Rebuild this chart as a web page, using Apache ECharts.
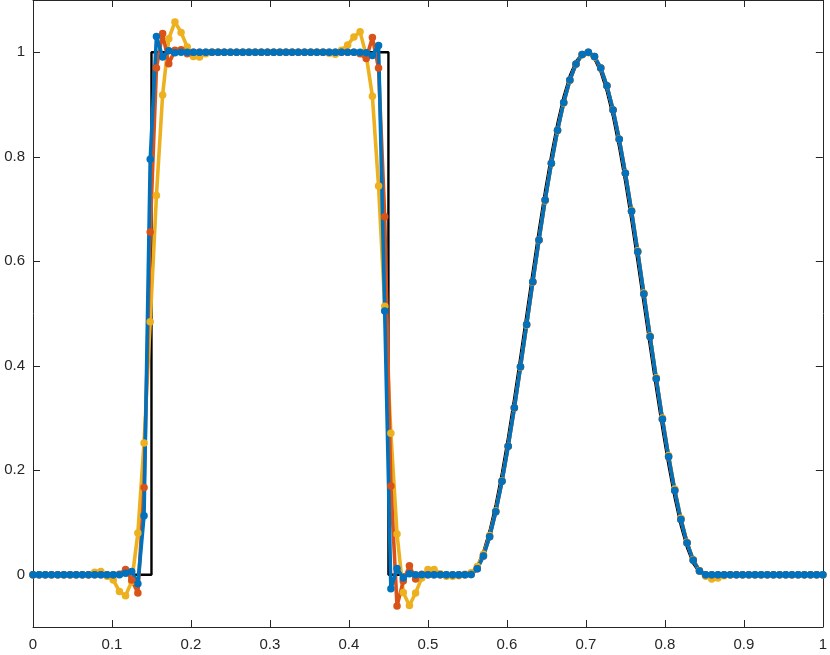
<!DOCTYPE html>
<html>
<head>
<meta charset="utf-8">
<script src="https://cdn.jsdelivr.net/npm/echarts@6/dist/echarts.min.js"></script>
<style>
  html, body { margin: 0; padding: 0; background: #fff; }
  #main { width: 830px; height: 655px; }
</style>
</head>
<body>
<div id="main"></div>
<script>
// sample positions (grid of 129 points)
const xGrid = [
  0, 0.0078, 0.0156, 0.0234, 0.0313, 0.0391, 0.0469, 0.0547, 0.0625, 0.0703, 0.0781, 0.0859, 0.0938, 0.1016, 0.1094, 0.1172,
  0.125, 0.1328, 0.1406, 0.1484, 0.1563, 0.1641, 0.1719, 0.1797, 0.1875, 0.1953, 0.2031, 0.2109, 0.2188, 0.2266, 0.2344, 0.2422,
  0.25, 0.2578, 0.2656, 0.2734, 0.2813, 0.2891, 0.2969, 0.3047, 0.3125, 0.3203, 0.3281, 0.3359, 0.3438, 0.3516, 0.3594, 0.3672,
  0.375, 0.3828, 0.3906, 0.3984, 0.4063, 0.4141, 0.4219, 0.4297, 0.4375, 0.4453, 0.4531, 0.4609, 0.4688, 0.4766, 0.4844, 0.4922,
  0.5, 0.5078, 0.5156, 0.5234, 0.5313, 0.5391, 0.5469, 0.5547, 0.5625, 0.5703, 0.5781, 0.5859, 0.5938, 0.6016, 0.6094, 0.6172,
  0.625, 0.6328, 0.6406, 0.6484, 0.6563, 0.6641, 0.6719, 0.6797, 0.6875, 0.6953, 0.7031, 0.7109, 0.7188, 0.7266, 0.7344, 0.7422,
  0.75, 0.7578, 0.7656, 0.7734, 0.7813, 0.7891, 0.7969, 0.8047, 0.8125, 0.8203, 0.8281, 0.8359, 0.8438, 0.8516, 0.8594, 0.8672,
  0.875, 0.8828, 0.8906, 0.8984, 0.9063, 0.9141, 0.9219, 0.9297, 0.9375, 0.9453, 0.9531, 0.9609, 0.9688, 0.9766, 0.9844, 0.9922,
  1
]

// blue
const blueY = [
  0, 0, 0, 0, 0, 0, 0, 0, 0, 0, 0, 0, 0, 0, 0, 0.003,
  0.006, -0.017, 0.113, 0.795, 1.03, 0.991, 1.003, 0.999, 1, 1, 1, 1, 1, 1, 1, 1,
  1, 1, 1, 1, 1, 1, 1, 1, 1, 1, 1, 1, 1, 1, 1, 1,
  1, 1, 1, 1, 1, 1, 0.999, 0.994, 1.013, 0.505, -0.027, 0.012, -0.006, 0.002, 0, 0,
  0, 0, 0, 0, 0, 0, 0, 0.0005, 0.0116, 0.0359, 0.0726, 0.1206, 0.1789, 0.2458, 0.3194, 0.3979,
  0.479, 0.5607, 0.6408, 0.7172, 0.7877, 0.8505, 0.904, 0.9467, 0.9776, 0.9955, 0.9998, 0.9918, 0.9699, 0.9358, 0.8897, 0.8334,
  0.7682, 0.6958, 0.6183, 0.5374, 0.4556, 0.3749, 0.2977, 0.2258, 0.1612, 0.1057, 0.0609, 0.0276, 0.007, 0.0002, 0, 0,
  0, 0, 0, 0, 0, 0, 0, 0, 0, 0, 0, 0, 0, 0, 0, 0,
  0
]

// orange
const orangeY = [
  0, 0, 0, 0, 0, 0, 0, 0, 0, 0, 0, 0, 0, 0, 0.001, 0.01,
  -0.01, -0.035, 0.167, 0.656, 0.97, 1.036, 0.978, 1.004, 1.005, 0.997, 1, 1, 1, 1, 1, 1,
  1, 1, 1, 1, 1, 1, 1, 1, 1, 1, 1, 1, 1, 1, 1, 1,
  1, 1, 1, 1, 1, 0.997, 0.988, 1.028, 0.97, 0.685, 0.17, -0.06, -0.012, 0.017, -0.008, 0.001,
  0, 0, 0, 0, 0, 0, 0, 0.0005, 0.0116, 0.0359, 0.0726, 0.1206, 0.1789, 0.2458, 0.3194, 0.3979,
  0.479, 0.5607, 0.6408, 0.7172, 0.7877, 0.8505, 0.904, 0.9467, 0.9776, 0.9955, 0.9998, 0.9918, 0.9699, 0.9358, 0.8897, 0.8334,
  0.7682, 0.6958, 0.6183, 0.5374, 0.4556, 0.3749, 0.2977, 0.2258, 0.1612, 0.1057, 0.0609, 0.0276, 0.007, 0.0002, 0, 0,
  0, 0, 0, 0, 0, 0, 0, 0, 0, 0, 0, 0, 0, 0, 0, 0,
  0
]

// yellow
const yellowY = [
  0, 0, 0, 0, 0, 0, 0, 0, 0, 0, 0.005, 0.006, -0.003, -0.01, -0.032, -0.04,
  -0.013, 0.08, 0.252, 0.484, 0.726, 0.918, 1.026, 1.058, 1.038, 1.01, 0.992, 0.991, 0.997, 1, 1, 1,
  1, 1, 1, 1, 1, 1, 1, 1, 1, 1, 1, 1, 1, 1, 1, 1,
  0.998, 0.996, 1.004, 1.014, 1.029, 1.039, 0.994, 0.916, 0.744, 0.514, 0.271, 0.078, -0.034, -0.059, -0.035, -0.006,
  0.01, 0.01, 0.002, -0.003, -0.003, -0.002, 0.001, 0.004, 0.016, 0.039, 0.075, 0.122, 0.18, 0.246, 0.319, 0.397,
  0.478, 0.56, 0.64, 0.716, 0.787, 0.85, 0.903, 0.946, 0.977, 0.995, 0.999, 0.991, 0.97, 0.936, 0.89, 0.834,
  0.769, 0.697, 0.62, 0.539, 0.457, 0.377, 0.3, 0.228, 0.164, 0.108, 0.062, 0.029, 0.008, -0.003, -0.008, -0.006,
  -0.002, 0, 0, 0, 0, 0, 0, 0, 0, 0, 0, 0, 0, 0, 0, 0,
  0
]

// exact solution (black): square pulse + smooth bump
const exactX = [
  0, 0.15, 0.15, 0.45, 0.45, 0.55,
  0.5547, 0.5625, 0.5703, 0.5781, 0.5859, 0.5938, 0.6016, 0.6094, 0.6172,
  0.625, 0.6328, 0.6406, 0.6484, 0.6563, 0.6641, 0.6719, 0.6797, 0.6875, 0.6953, 0.7031, 0.7109, 0.7188, 0.7266, 0.7344, 0.7422,
  0.75, 0.7578, 0.7656, 0.7734, 0.7813, 0.7891, 0.7969, 0.8047, 0.8125, 0.8203, 0.8281, 0.8359, 0.8438,
  0.85, 1
]
const exactY = [
  0, 0, 1, 1, 0, 0,
  0.0024, 0.017, 0.0446, 0.0843, 0.1351, 0.1956, 0.2643, 0.3393, 0.4186,
  0.5, 0.5814, 0.6607, 0.7357, 0.8044, 0.8649, 0.9157, 0.9554, 0.983, 0.9976, 0.9989, 0.987, 0.9619, 0.9247, 0.8759, 0.8172,
  0.75, 0.6762, 0.5976, 0.5164, 0.4348, 0.3548, 0.2789, 0.2087, 0.1464, 0.0935, 0.0516, 0.0215, 0.0043,
  0, 0
]

const xTicks = [0, 0.1, 0.2, 0.3, 0.4, 0.5, 0.6, 0.7, 0.8, 0.9, 1]
const yTicks = [0, 0.2, 0.4, 0.6, 0.8, 1]

const axisColor = '#262626'
const font = '"Liberation Sans", Arial, sans-serif'

function pairs(xs, ys) {
  return xs.map((x, i) => [x, ys[i]])
}

function fmt(v) {
  return String(+(+v).toFixed(2))
}

function makeX(position, labels) {
  return {
    type: 'value', min: 0, max: 1, position: position,
    axisLine: { show: true, onZero: false, lineStyle: { color: axisColor, width: 1 } },
    axisTick: { show: true, inside: true, length: 7, customValues: xTicks, lineStyle: { color: axisColor } },
    axisLabel: { show: labels, customValues: xTicks, formatter: fmt, color: axisColor, fontSize: 15, fontFamily: font, margin: 10 },
    splitLine: { show: false }
  }
}

function makeY(position, labels) {
  return {
    type: 'value', min: -0.1, max: 1.1, position: position,
    axisLine: { show: true, onZero: false, lineStyle: { color: axisColor, width: 1 } },
    axisTick: { show: true, inside: true, length: 7, customValues: yTicks, lineStyle: { color: axisColor } },
    axisLabel: { show: labels, customValues: yTicks, formatter: fmt, color: axisColor, fontSize: 15, fontFamily: font, margin: 8 },
    splitLine: { show: false }
  }
}

function dotted(name, color, ys) {
  return {
    name: name, type: 'line', data: pairs(xGrid, ys),
    symbol: 'circle', symbolSize: 7.5, showSymbol: true, showAllSymbol: true,
    lineStyle: { color: color, width: 3.6 },
    itemStyle: { color: color },
    emphasis: { disabled: true }
  }
}

let myChart = echarts.init(document.getElementById('main'), null, { renderer: 'canvas' })

let options = {
  animation: false,
  backgroundColor: '#fff',
  grid: { left: 33, right: 3, top: 0, bottom: 28, containLabel: false },
  xAxis: [makeX('bottom', true), makeX('top', false)],
  yAxis: [makeY('left', true), makeY('right', false)],
  series: [
    {
      name: 'exact', type: 'line', data: pairs(exactX, exactY),
      symbol: 'none', lineStyle: { color: '#000', width: 2.4 }, emphasis: { disabled: true }
    },
    dotted('yellow', '#EDB120', yellowY),
    dotted('orange', '#D95319', orangeY),
    dotted('blue', '#0072BD', blueY)
  ]
}

myChart.setOption(options)
</script>
</body>
</html>
